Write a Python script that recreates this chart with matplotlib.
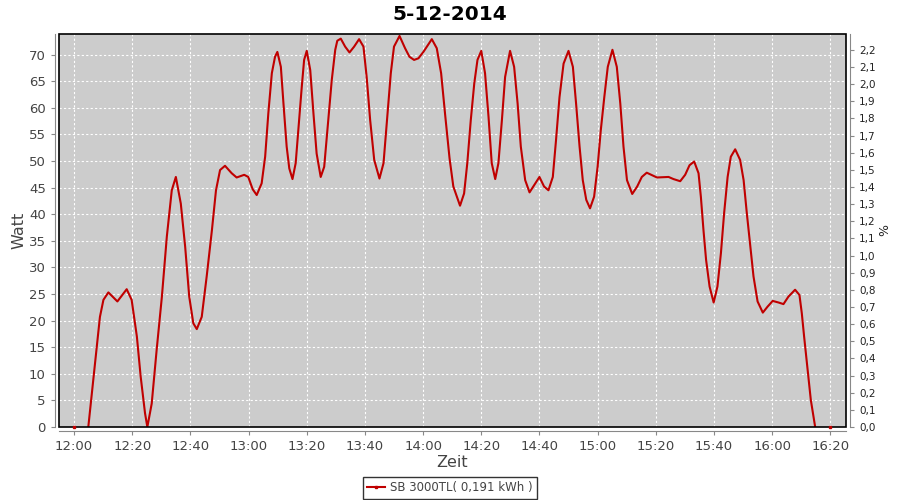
import matplotlib.pyplot as plt
from matplotlib.patches import Rectangle

# minutes after 12:00 and power in W
TIME_MIN = [
    4.9, 6.6, 7.8, 8.9, 10.1, 11.8, 14.9, 18.1, 19.8, 21.6, 22.9, 24.4, 25.2,
    26.7, 28.4, 30.2, 31.9, 33.6, 35.0, 36.7, 38.2, 39.6, 41.0, 42.2, 43.9,
    45.6, 47.4, 48.8, 50.2, 51.9, 54.2, 55.9, 58.5, 59.9, 61.4, 62.8, 64.5,
    65.7, 66.8, 68.0, 69.1, 69.9, 71.1, 72.0, 73.1, 74.0, 75.1, 76.2, 77.1,
    78.3, 79.1, 80.0, 81.2, 82.3, 83.4, 84.8, 86.0, 87.1, 88.6, 89.8, 90.5,
    91.7, 93.2, 94.7, 96.3, 98.0, 99.5, 100.6, 101.8, 103.2, 105.0, 106.4,
    107.5, 108.9, 110.0, 111.9, 113.8, 115.3, 116.9, 118.4, 120.1, 123.0,
    124.7, 126.2, 127.6, 129.1, 130.4, 132.7, 134.1, 135.2, 136.4, 137.6,
    138.7, 140.0, 141.3, 142.5, 143.6, 144.8, 145.9, 147.1, 148.2, 149.9,
    151.3, 152.5, 153.6, 155.1, 156.6, 157.9, 160.0, 161.6, 163.1, 164.6,
    165.7, 166.9, 168.3, 170.0, 171.5, 172.6, 173.8, 174.9, 176.1, 177.4,
    178.8, 180.0, 181.1, 182.3, 183.5, 185.1, 186.6, 187.8, 188.9, 190.1,
    191.9, 193.6, 195.2, 196.9, 200.4, 204.4, 206.1, 208.4, 210.1, 211.6,
    213.2, 214.7, 215.5, 216.4, 217.3, 218.5, 219.9, 221.2, 222.4, 223.5,
    224.7, 225.8, 227.3, 229.0, 230.2, 231.3, 232.5, 233.6, 235.0, 236.8,
    238.4, 240.2, 242.2, 243.9, 245.6, 247.9, 249.4, 250.2, 251.0, 252.2,
    253.3, 254.8,
]
WATT = [
    0.0, 8.8, 15.1, 20.7, 23.9, 25.3, 23.6, 25.9, 23.9, 17.0, 9.5, 2.6, 0.0,
    4.4, 14.5, 24.5, 35.8, 44.5, 47.0, 42.0, 33.9, 24.5, 19.5, 18.4, 20.7,
    28.3, 37.0, 44.5, 48.3, 49.1, 47.7, 46.9, 47.4, 47.0, 44.7, 43.6, 45.8,
    50.8, 59.0, 66.5, 69.6, 70.5, 67.7, 60.8, 52.7, 48.6, 46.6, 49.6, 55.8,
    64.0, 69.0, 70.7, 67.1, 59.0, 51.4, 47.0, 48.9, 55.8, 65.2, 70.9, 72.6,
    73.0, 71.5, 70.4, 71.5, 72.9, 71.5, 65.8, 57.7, 50.2, 46.7, 49.6,
    57.0, 66.5, 71.5, 73.5, 71.2, 69.6, 69.0, 69.3, 70.5, 72.9,
    71.2, 66.5, 58.6, 50.5, 45.2, 41.6, 43.9, 49.6, 57.7, 64.6,
    69.0, 70.7, 66.5, 58.3, 49.6, 46.6, 49.6, 57.7, 65.8, 70.7,
    67.7, 60.8, 52.7, 46.4, 44.1, 45.2, 47.0, 45.2, 44.5, 47.0,
    53.9, 62.0, 68.3, 70.7, 67.7, 60.8, 52.7, 46.4, 42.7, 41.1,
    43.3, 48.9, 55.8, 62.0, 67.7, 70.9, 67.7, 60.8, 52.7, 46.4,
    43.8, 45.2, 47.0, 47.8, 46.9, 47.0, 46.6, 46.2, 47.4, 49.2,
    49.9, 47.7, 43.3, 37.0, 31.4, 26.4, 23.4, 26.4, 32.7, 40.2,
    47.0, 50.8, 52.2, 50.2, 46.4, 40.2, 33.9, 28.3, 23.6, 21.5,
    22.6, 23.7, 23.4, 23.1, 24.5, 25.8, 24.8, 21.4, 17.0, 10.7,
    5.1, 0.0,
]
# lone zero readings at the start and the end of the day
END_MIN = [0.0, 260.0]
END_WATT = [0.0, 0.0]

X_TICKS = [0, 20, 40, 60, 80, 100, 120, 140, 160, 180, 200, 220, 240, 260]
X_LABELS = ["12:00", "12:20", "12:40", "13:00", "13:20", "13:40", "14:00",
            "14:20", "14:40", "15:00", "15:20", "15:40", "16:00", "16:20"]
Y_TICKS = list(range(0, 75, 5))
PCT_TICKS = [i / 10 for i in range(0, 23)]

LINE_RED = "#c00000"
AXIS_GREY = "#888888"
TEXT_GREY = "#444444"

plt.rcParams["font.family"] = ["DejaVu Sans"]

fig = plt.figure(figsize=(9, 5), dpi=100)
ax = fig.add_axes([0.0656, 0.146, 0.8744, 0.786])
ax.set_facecolor("#cccccc")

ax.plot(TIME_MIN, WATT, color=LINE_RED, linewidth=1.5, zorder=3)
ax.plot(END_MIN, END_WATT, "s", color=LINE_RED, markersize=2, zorder=5,
        clip_on=False)

ax.set_xlim(-5.16, 265.4)
ax.set_ylim(0, 73.87)
ax.set_xticks(X_TICKS)
ax.set_xticklabels(X_LABELS)
ax.set_yticks(Y_TICKS)

ax.grid(True, color="white", linestyle=(0, (2, 2)), linewidth=0.8)
ax.set_axisbelow(True)

for side in ["top", "right"]:
    ax.spines[side].set_visible(False)
for side in ["left", "bottom"]:
    ax.spines[side].set_position(("outward", 3))
    ax.spines[side].set_color(AXIS_GREY)
ax.tick_params(axis="both", colors=AXIS_GREY, labelcolor=TEXT_GREY,
               labelsize=9.5, length=3, width=0.8, direction="out")

# black outline of the plot area
ax.add_patch(Rectangle((0, 0), 1, 1, transform=ax.transAxes, fill=False,
                       edgecolor="black", linewidth=1.2, zorder=4,
                       clip_on=False))

ax.set_xlabel("Zeit", fontsize=11.5, color=TEXT_GREY, labelpad=1)
ax.set_ylabel("Watt", fontsize=11.5, color=TEXT_GREY, labelpad=2)

# secondary percent axis, no data on it
ax2 = ax.twinx()
ax2.set_ylim(0, 2.293)
ax2.set_yticks(PCT_TICKS)
ax2.set_yticklabels([f"{v:.1f}".replace(".", ",") for v in PCT_TICKS])
for side in ["top", "left", "bottom"]:
    ax2.spines[side].set_visible(False)
ax2.spines["right"].set_position(("outward", 3))
ax2.spines["right"].set_color(AXIS_GREY)
ax2.tick_params(axis="y", colors=AXIS_GREY, labelcolor="#222222",
                labelsize=7.5, length=3, width=0.8, direction="out")
ax2.set_ylabel("%", fontsize=9, color="#222222", labelpad=2)

fig.text(0.5, 0.972, "5-12-2014", ha="center", va="center",
         fontsize=14.5, fontweight="bold", color="black")

leg = fig.legend(
    [plt.Line2D([], [], color=LINE_RED, linewidth=1.5, marker="s",
                markersize=2)],
    ["SB 3000TL( 0,191 kWh )"],
    loc="center", bbox_to_anchor=(0.5, 0.024), frameon=True, fancybox=False,
    fontsize=8.5, handlelength=1.5, handletextpad=0.4, borderpad=0.35,
    borderaxespad=0,
)
leg.get_frame().set_edgecolor("black")
leg.get_frame().set_linewidth(1.0)
for t in leg.get_texts():
    t.set_color(TEXT_GREY)

fig.savefig("out.png", dpi=100)
